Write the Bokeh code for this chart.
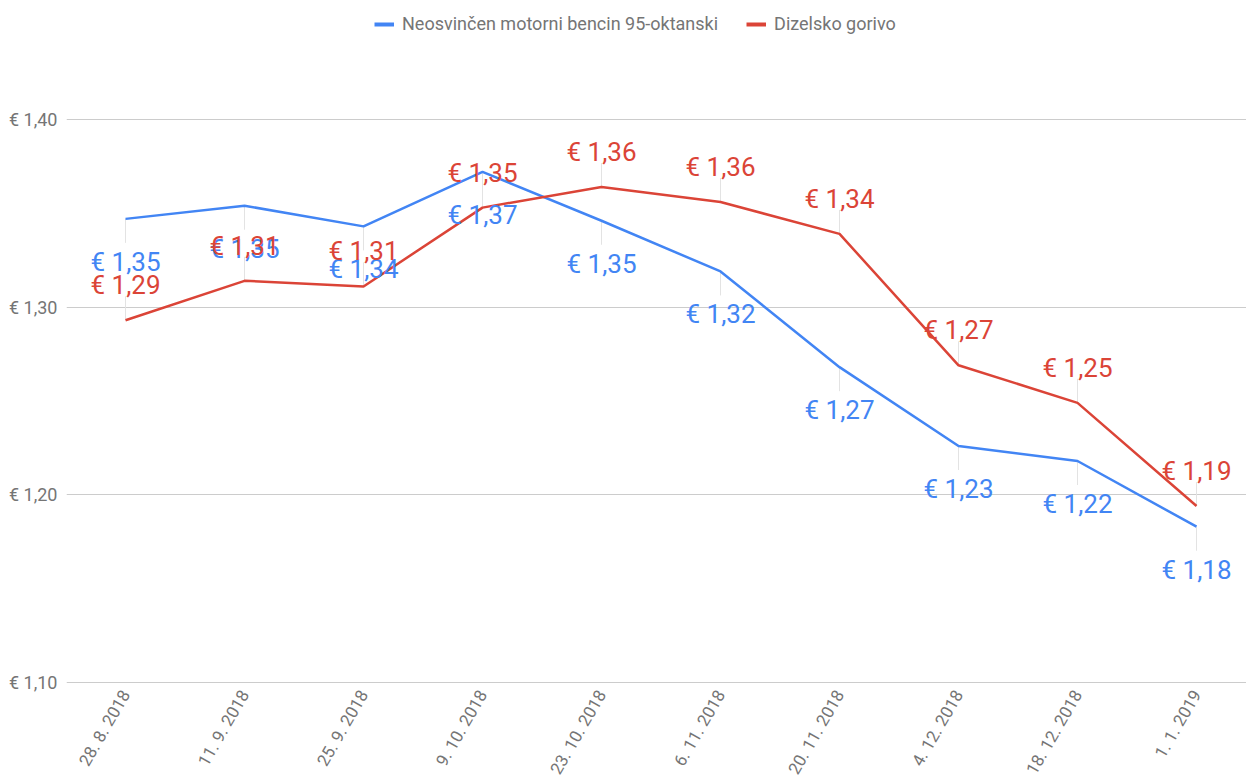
from bokeh.plotting import figure
from bokeh.models import (ColumnDataSource, FixedTicker, Range1d, Legend, LegendItem)
from bokeh.core.properties import value
from bokeh.embed import file_html
from bokeh.resources import INLINE
import math

# ---- data ----
dates = ["28. 8. 2018", "11. 9. 2018", "25. 9. 2018", "9. 10. 2018", "23. 10. 2018",
         "6. 11. 2018", "20. 11. 2018", "4. 12. 2018", "18. 12. 2018", "1. 1. 2019"]
bencin = [1.347, 1.354, 1.343, 1.372, 1.346, 1.319, 1.268, 1.226, 1.218, 1.183]
dizel = [1.293, 1.314, 1.311, 1.353, 1.364, 1.356, 1.339, 1.269, 1.249, 1.194]
series_names = ["Neosvinčen motorni bencin 95-oktanski", "Dizelsko gorivo"]
y_ticks = [1.10, 1.20, 1.30, 1.40]
y_tick_labels = ["€ 1,10", "€ 1,20", "€ 1,30", "€ 1,40"]

BLUE = "#4285F4"
RED = "#DB4437"
GRAY = "#757575"
FONT = "Roboto"

FRAME_W, FRAME_H = 1180, 683
U = 0.1 / 187.7            # data units per pixel
Y0 = 1.10 - U              # one pixel below the baseline so it stays visible
Y1 = Y0 + FRAME_H * U
X0 = -0.496
X1 = X0 + FRAME_W / 119.0

def fmt(v):
    return "€ " + ("%.2f" % v).replace(".", ",")

xs = list(range(len(dates)))

p = figure(frame_width=FRAME_W, frame_height=FRAME_H, output_backend="svg",
           toolbar_location=None, x_range=Range1d(X0, X1), y_range=Range1d(Y0, Y1),
           min_border_left=66, min_border_right=0, min_border_top=0, min_border_bottom=99)
p.outline_line_color = None
p.background_fill_color = "white"

# axes
p.xaxis.ticker = FixedTicker(ticks=xs)
p.xaxis.major_label_overrides = {i: d for i, d in enumerate(dates)}
p.xaxis.major_label_orientation = math.pi / 3
p.yaxis.ticker = FixedTicker(ticks=y_ticks)
p.yaxis.major_label_overrides = {t: l for t, l in zip(y_ticks, y_tick_labels)}
for ax in (p.xaxis, p.yaxis):
    ax.axis_line_color = None
    ax.major_tick_line_color = None
    ax.minor_tick_line_color = None
    ax.major_tick_out = 0
    ax.major_tick_in = 0
    ax.minor_tick_out = 0
    ax.major_label_text_font = FONT
    ax.major_label_text_color = GRAY
p.yaxis.major_label_text_font_size = "18px"
p.xaxis.major_label_text_font_size = "17px"
p.yaxis.major_label_standoff = 9
p.xaxis.major_label_standoff = 8
p.xgrid.grid_line_color = None
p.ygrid.ticker = FixedTicker(ticks=y_ticks)
p.ygrid.grid_line_color = "#cccccc"
p.ygrid.grid_line_width = 1

src = ColumnDataSource(dict(
    x=xs, b=bencin, d=dizel,
    b_lab=[fmt(v) for v in bencin], d_lab=[fmt(v) for v in dizel],
    b_lead=[v - 24 * U for v in bencin], d_lead=[v + 24 * U for v in dizel],
))

# leader lines
p.segment(x0="x", y0="b", x1="x", y1="b_lead", source=src, line_color="#e3e3e3", line_width=1)
p.segment(x0="x", y0="d", x1="x", y1="d_lead", source=src, line_color="#e3e3e3", line_width=1)

# lines
p.line("x", "b", source=src, line_color=BLUE, line_width=2.5)
p.line("x", "d", source=src, line_color=RED, line_width=2.5)

# labels
p.text("x", "b", text="b_lab", source=src, text_color=BLUE, text_font=value(FONT),
       text_font_size="26px", text_align="center", text_baseline="middle", y_offset=43)
p.text("x", "d", text="d_lab", source=src, text_color=RED, text_font=value(FONT),
       text_font_size="26px", text_align="center", text_baseline="middle", y_offset=-35)

# legend keys (hidden renderers, drawn thicker only in the legend)
kb = p.line("x", "b", source=src, line_color=BLUE, line_width=4, visible=False)
kr = p.line("x", "d", source=src, line_color=RED, line_width=4, visible=False)
legend = Legend(items=[LegendItem(label=series_names[0], renderers=[kb]),
                       LegendItem(label=series_names[1], renderers=[kr])],
                orientation="horizontal", location=(308, FRAME_H - 34))
legend.border_line_color = None
legend.background_fill_alpha = 0
legend.inactive_fill_alpha = 0
legend.padding = 0
legend.margin = 0
legend.spacing = 28
legend.glyph_width = 20
legend.glyph_height = 20
legend.label_height = 20
legend.label_standoff = 8
legend.label_text_font = FONT
legend.label_text_font_size = "18px"
legend.label_text_color = GRAY
legend.label_text_baseline = "middle"
p.add_layout(legend)

open("out.html", "w").write(file_html(p, INLINE))
